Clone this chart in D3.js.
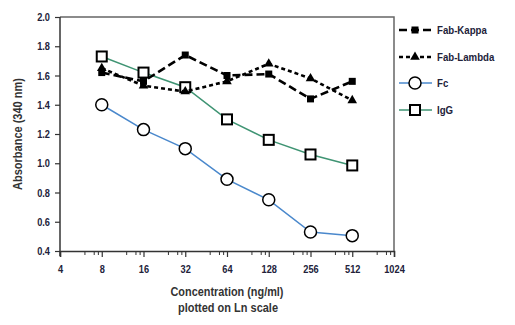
<!DOCTYPE html>
<html>
<head>
<meta charset="utf-8">
<script src="https://cdn.jsdelivr.net/npm/d3@7"></script>
<style>
  body { margin: 0; background: #fff; }
  svg text { font-family: "Liberation Sans Narrow", "Arial Narrow", "Liberation Sans", sans-serif; }
</style>
</head>
<body>
<svg id="chart" width="515" height="325"></svg>
<script>
// concentrations (ng/ml)
const concentrations = [8, 16, 32, 64, 128, 256, 512]
const xTicks = [4, 8, 16, 32, 64, 128, 256, 512, 1024]
const yTicks = [0.4, 0.6, 0.8, 1.0, 1.2, 1.4, 1.6, 1.8, 2.0]

const fabKappa = [1.62, 1.56, 1.74, 1.60, 1.61, 1.44, 1.56]
const fabLambda = [1.65, 1.53, 1.49, 1.56, 1.68, 1.58, 1.43]
const fc = [1.40, 1.23, 1.10, 0.89, 0.75, 0.53, 0.505]
const igg = [1.73, 1.62, 1.52, 1.30, 1.16, 1.06, 0.985]

const seriesNames = ['Fab-Kappa', 'Fab-Lambda', 'Fc', 'IgG']

const svg = d3.select('#chart')
const margin = { left: 60, top: 17, right: 394, bottom: 251 }

const x = d3.scaleLog().base(2).domain([4, 1024]).range([margin.left, margin.right])
const y = d3.scaleLinear().domain([0.4, 2.0]).range([margin.bottom, margin.top])

const series = [
  { name: seriesNames[0], values: fabKappa, color: '#000', width: 2.6, dash: '8,4', marker: 'filledSquare' },
  { name: seriesNames[1], values: fabLambda, color: '#000', width: 2.6, dash: '4,3', marker: 'triangle' },
  { name: seriesNames[2], values: fc, color: '#4a88cc', width: 1.5, dash: null, marker: 'circle' },
  { name: seriesNames[3], values: igg, color: '#3f9473', width: 1.5, dash: null, marker: 'openSquare' }
]

// squeeze text horizontally to get a condensed look
const narrow = 0.84
function condense (sel) {
  sel.each(function () {
    const t = d3.select(this)
    const tx = +t.attr('x') || 0
    t.attr('transform', `translate(${tx},0) scale(${narrow},1) translate(${-tx},0)`)
  })
}

// frame: top and right borders
svg.append('path')
  .attr('d', `M${margin.left},${margin.top}H${margin.right}V${margin.bottom}`)
  .attr('fill', 'none')
  .attr('stroke', '#666')
  .attr('stroke-width', 1.5)

// y axis
const yAxis = svg.append('g')
  .attr('transform', `translate(${margin.left},0)`)
  .call(d3.axisLeft(y).tickValues(yTicks).tickFormat(d3.format('.1f')).tickSize(5).tickPadding(5))
yAxis.select('.domain').attr('stroke', '#333').attr('stroke-width', 1.5).attr('d', `M0,${margin.top}V${margin.bottom + 5}`)
yAxis.selectAll('.tick line').attr('stroke', '#333').attr('stroke-width', 1.2)
yAxis.selectAll('text').attr('fill', '#22223a').attr('font-size', 11).attr('font-weight', 'bold').call(condense)

// x axis with minor ticks
const minor = []
xTicks.slice(0, -1).forEach(t => [1.5, 1.75, 1.875].forEach(m => minor.push(t * m)))
const xMinor = svg.append('g')
  .attr('transform', `translate(0,${margin.bottom})`)
  .call(d3.axisBottom(x).tickValues(minor).tickSize(4).tickFormat(''))
xMinor.select('.domain').remove()
xMinor.selectAll('.tick line').attr('stroke', '#333').attr('stroke-width', 1)

const xAxis = svg.append('g')
  .attr('transform', `translate(0,${margin.bottom})`)
  .call(d3.axisBottom(x).tickValues(xTicks).tickFormat(d3.format('d')).tickSizeOuter(0).tickSize(6).tickPadding(8))
xAxis.select('.domain').attr('stroke', '#333').attr('stroke-width', 1.5)
xAxis.selectAll('.tick line').attr('stroke', '#333').attr('stroke-width', 1.2)
xAxis.selectAll('text').attr('fill', '#22223a').attr('font-size', 11).attr('font-weight', 'bold').call(condense)

// axis titles
svg.append('text')
  .attr('transform', `translate(22,${(margin.top + margin.bottom) / 2}) rotate(-90)`)
  .attr('text-anchor', 'middle')
  .attr('font-size', 12.5)
  .attr('font-weight', 'bold')
  .attr('fill', '#333')
  .attr('textLength', 112)
  .attr('lengthAdjust', 'spacingAndGlyphs')
  .text('Absorbance (340 nm)')

svg.append('text')
  .attr('x', 227).attr('y', 296)
  .attr('text-anchor', 'middle')
  .attr('font-size', 12.5)
  .attr('font-weight', 'bold')
  .attr('fill', '#333')
  .attr('textLength', 113)
  .attr('lengthAdjust', 'spacingAndGlyphs')
  .text('Concentration (ng/ml)')

svg.append('text')
  .attr('x', 228).attr('y', 312)
  .attr('text-anchor', 'middle')
  .attr('font-size', 12.5)
  .attr('font-weight', 'bold')
  .attr('fill', '#333')
  .attr('textLength', 100)
  .attr('lengthAdjust', 'spacingAndGlyphs')
  .text('plotted on Ln scale')

function drawMarker (g, type, cx, cy) {
  if (type === 'filledSquare') {
    g.append('rect').attr('x', cx - 3.5).attr('y', cy - 3.5).attr('width', 7).attr('height', 7).attr('fill', '#000')
  } else if (type === 'triangle') {
    g.append('path').attr('d', d3.symbol(d3.symbolTriangle, 40)()).attr('transform', `translate(${cx},${cy})`).attr('fill', '#000')
  } else if (type === 'circle') {
    g.append('circle').attr('cx', cx).attr('cy', cy).attr('r', 6).attr('fill', '#fff').attr('stroke', '#000').attr('stroke-width', 1.5)
  } else {
    g.append('rect').attr('x', cx - 5).attr('y', cy - 5).attr('width', 10).attr('height', 10).attr('fill', '#fff').attr('stroke', '#000').attr('stroke-width', 2)
  }
}

const line = d3.line().x(d => x(d.c)).y(d => y(d.v))

// draw later series first so the black lines sit on top
series.slice().reverse().forEach(s => {
  const pts = s.values.map((v, i) => ({ c: concentrations[i], v }))
  const g = svg.append('g')
  g.append('path')
    .datum(pts)
    .attr('d', line)
    .attr('fill', 'none')
    .attr('stroke', s.color)
    .attr('stroke-width', s.width)
    .attr('stroke-dasharray', s.dash)
  pts.forEach(p => drawMarker(g, s.marker, x(p.c), y(p.v)))
})

// legend
const legendRows = [30, 57, 83, 110]
series.forEach((s, i) => {
  const g = svg.append('g')
  const ly = legendRows[i]
  g.append('line')
    .attr('x1', 399).attr('x2', 432).attr('y1', ly).attr('y2', ly)
    .attr('stroke', s.color)
    .attr('stroke-width', s.width)
    .attr('stroke-dasharray', s.dash)
  drawMarker(g, s.marker, 415, ly)
  g.append('text')
    .attr('x', 437).attr('y', ly + 4)
    .attr('font-size', 11.5)
    .attr('font-weight', 'bold')
    .attr('fill', '#22223a')
    .text(s.name)
    .call(condense)
})
</script>
</body>
</html>
